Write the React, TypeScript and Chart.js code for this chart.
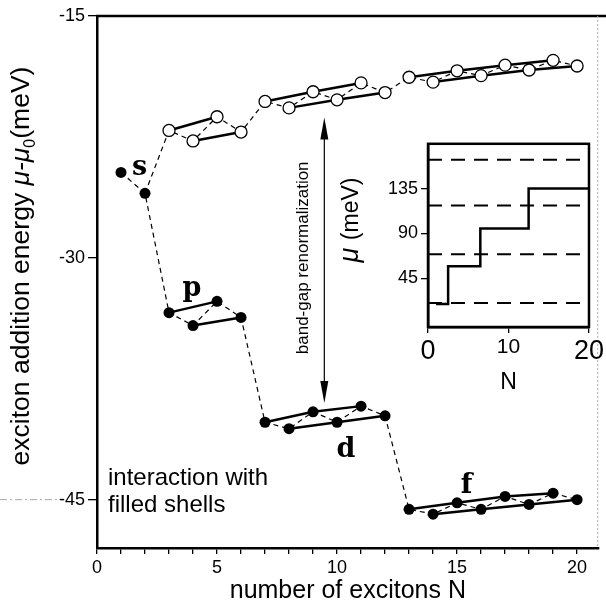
import React, { useEffect, useRef } from "react";
import { Chart, registerables } from "chart.js";
Chart.register(...registerables);

const FONT = "'Liberation Sans', Arial, Helvetica, sans-serif";
const SERIF = "'DejaVu Serif', 'Liberation Serif', serif";

// ---- main chart data ----
const excitonN = [1, 2, 3, 4, 5, 6, 7, 8, 9, 10, 11, 12, 13, 14, 15, 16, 17, 18, 19, 20];
const filledEnergy = [-24.7, -26.0, -33.4, -34.2, -32.7, -33.7, -40.2, -40.6, -39.55, -40.2, -39.2, -39.8, -45.6, -45.9, -45.2, -45.6, -44.8, -45.3, -44.6, -45.0];
const openN = [3, 4, 5, 6, 7, 8, 9, 10, 11, 12, 13, 14, 15, 16, 17, 18, 19, 20];
const openEnergy = [-22.1, -22.75, -21.25, -22.2, -20.3, -20.7, -19.7, -20.2, -19.15, -19.75, -18.8, -19.1, -18.4, -18.7, -18.05, -18.35, -17.75, -18.1];
const shellChains = [[3, 5], [4, 6], [7, 9, 11], [8, 10, 12], [13, 15, 17, 19], [14, 16, 18, 20]];
const shellLabels = ["s", "p", "d", "f"];
const mainXTicks = [0, 1, 2, 3, 4, 5, 6, 7, 8, 9, 10, 11, 12, 13, 14, 15, 16, 17, 18, 19, 20];
const mainXLabels = [0, 5, 10, 15, 20];
const mainYTicks = [-45, -30, -15];

// ---- inset data ----
const insetStepN = [1, 2.5, 6.5, 12.5, 20];
const insetStepMu = [19, 57, 95, 135, 135];
const insetLevels = [20, 69, 118, 164];
const insetYTicks = [45, 90, 135];
const insetXTicks = [0, 10, 20];

const filledAt = (n: number) => filledEnergy[excitonN.indexOf(n)];
const openAt = (n: number) => openEnergy[openN.indexOf(n)];

const mainDecor = {
  id: "mainDecor",
  afterDraw(chart: any) {
    const { ctx, chartArea, scales } = chart;
    const x = scales.x, y = scales.y;
    ctx.save();
    // top frame line
    ctx.strokeStyle = "#000";
    ctx.lineWidth = 2.5;
    ctx.beginPath();
    ctx.moveTo(chartArea.left - 1, chartArea.top);
    ctx.lineTo(chart.width, chartArea.top);
    ctx.stroke();
    // faint right edge (scan)
    ctx.strokeStyle = "#b0b0b0";
    ctx.lineWidth = 1;
    ctx.setLineDash([2, 2]);
    ctx.beginPath();
    ctx.moveTo(chartArea.right - 1, chartArea.top);
    ctx.lineTo(chartArea.right - 1, chartArea.bottom);
    ctx.stroke();
    // faint dash-dot at -45 on the left
    const y45 = y.getPixelForValue(-45);
    ctx.strokeStyle = "#a8a8a8";
    ctx.setLineDash([7, 3, 2, 3]);
    ctx.beginPath();
    ctx.moveTo(0, y45);
    ctx.lineTo(57, y45);
    ctx.stroke();
    ctx.setLineDash([]);

    // shell labels
    const labelPos = [[1.77, -24.86], [3.95, -32.36], [10.37, -42.34], [15.4, -44.57]];
    ctx.fillStyle = "#000";
    ctx.font = `bold 27px ${SERIF}`;
    ctx.textAlign = "center";
    ctx.textBaseline = "alphabetic";
    shellLabels.forEach((t, i) => {
      ctx.fillText(t, x.getPixelForValue(labelPos[i][0]), y.getPixelForValue(labelPos[i][1]));
    });

    // double-headed arrow
    const ax = x.getPixelForValue(9.47);
    const yTop = y.getPixelForValue(-21.3);
    const yBot = y.getPixelForValue(-39.0);
    const head = 22, hw = 4;
    ctx.strokeStyle = "#000";
    ctx.lineWidth = 1.2;
    ctx.beginPath();
    ctx.moveTo(ax, yTop + head - 2);
    ctx.lineTo(ax, yBot - head + 2);
    ctx.stroke();
    ctx.beginPath();
    ctx.moveTo(ax, yTop);
    ctx.lineTo(ax - hw, yTop + head);
    ctx.lineTo(ax + hw, yTop + head);
    ctx.closePath();
    ctx.fill();
    ctx.beginPath();
    ctx.moveTo(ax, yBot);
    ctx.lineTo(ax - hw, yBot - head);
    ctx.lineTo(ax + hw, yBot - head);
    ctx.closePath();
    ctx.fill();

    // band-gap text
    ctx.save();
    ctx.translate(x.getPixelForValue(8.6), y.getPixelForValue(-30.0));
    ctx.rotate(-Math.PI / 2);
    ctx.font = `17px ${FONT}`;
    ctx.textAlign = "center";
    ctx.textBaseline = "middle";
    ctx.fillText("band-gap renormalization", 0, 0);
    ctx.restore();

    // interaction text
    ctx.font = `24px ${FONT}`;
    ctx.textAlign = "left";
    ctx.textBaseline = "alphabetic";
    ctx.fillText("interaction with", 108, 485);
    ctx.fillText("filled shells", 108, 512);

    // y-axis title with italic mu and subscript
    const parts: [string, string, number][] = [
      ["exciton addition energy ", `26.5px ${FONT}`, 0],
      ["\u03bc-\u03bc", `italic 26.5px ${FONT}`, 0],
      ["0", `16px ${FONT}`, 6],
      ["(meV)", `26.5px ${FONT}`, 0],
    ];
    let total = 0;
    const widths = parts.map((p) => {
      ctx.font = p[1];
      const w = ctx.measureText(p[0]).width;
      total += w;
      return w;
    });
    ctx.save();
    ctx.translate(29, 266);
    ctx.rotate(-Math.PI / 2);
    let cx = -total / 2;
    parts.forEach((p, i) => {
      ctx.font = p[1];
      ctx.textAlign = "left";
      ctx.fillText(p[0], cx, p[2]);
      cx += widths[i];
    });
    ctx.restore();
    ctx.restore();
  },
};

const insetDecor = {
  id: "insetDecor",
  afterDraw(chart: any) {
    const { ctx, chartArea } = chart;
    ctx.save();
    ctx.strokeStyle = "#000";
    ctx.lineWidth = 2.5;
    ctx.strokeRect(chartArea.left, chartArea.top, chartArea.right - chartArea.left, chartArea.bottom - chartArea.top);
    // y title
    ctx.translate(28, 90);
    ctx.rotate(-Math.PI / 2);
    ctx.fillStyle = "#000";
    ctx.textBaseline = "alphabetic";
    ctx.font = `italic 27px ${FONT}`;
    const muW = ctx.measureText("\u03bc ").width;
    ctx.font = `23px ${FONT}`;
    const restW = ctx.measureText("(meV)").width;
    let cx = -(muW + restW) / 2;
    ctx.font = `italic 27px ${FONT}`;
    ctx.textAlign = "left";
    ctx.fillText("\u03bc ", cx, 0);
    ctx.font = `23px ${FONT}`;
    ctx.fillText("(meV)", cx + muW, 0);
    ctx.restore();
  },
};

export default function App() {
  const mainRef = useRef<HTMLCanvasElement>(null);
  const insetRef = useRef<HTMLCanvasElement>(null);

  useEffect(() => {
    const filledPts = excitonN.map((n, i) => ({ x: n, y: filledEnergy[i] }));
    const openPts = openN.map((n, i) => ({ x: n, y: openEnergy[i] }));
    const openDashed = [{ x: 2, y: filledAt(2) }, ...openPts];
    const solidSets: any[] = [];
    shellChains.forEach((chain) => {
      solidSets.push({ data: chain.map((n) => ({ x: n, y: filledAt(n) })), borderColor: "#000", borderWidth: 2.5, pointRadius: 0, order: 2 });
      solidSets.push({ data: chain.map((n) => ({ x: n, y: openAt(n) })), borderColor: "#000", borderWidth: 2.5, pointRadius: 0, order: 2 });
    });

    const main = new Chart(mainRef.current!, {
      type: "line",
      data: {
        datasets: [
          { data: filledPts, borderColor: "#000", borderWidth: 1.2, borderDash: [5, 4], pointRadius: 0, order: 3 },
          { data: openDashed, borderColor: "#000", borderWidth: 1.2, borderDash: [5, 4], pointRadius: 0, order: 3 },
          ...solidSets,
          { data: filledPts, showLine: false, pointRadius: 5.5, pointBackgroundColor: "#000", pointBorderColor: "#000", pointBorderWidth: 0, order: 1 },
          { data: openPts, showLine: false, pointRadius: 6, pointBackgroundColor: "#fff", pointBorderColor: "#000", pointBorderWidth: 1.3, order: 1 },
        ] as any,
      },
      options: {
        animation: false,
        responsive: false,
        maintainAspectRatio: false,
        layout: { padding: { top: 16, right: 1, left: 0, bottom: 0 } },
        plugins: { legend: { display: false }, tooltip: { enabled: false } },
        elements: { line: { tension: 0 } },
        scales: {
          x: {
            type: "linear",
            min: 0,
            max: 20.9,
            afterBuildTicks: (s: any) => { s.ticks = mainXTicks.map((v) => ({ value: v })); },
            ticks: {
              autoSkip: false,
              maxRotation: 0,
              color: "#000",
              padding: 3,
              font: { family: FONT, size: 18 },
              callback: (v: any) => (mainXLabels.includes(Number(v)) ? String(v) : ""),
            },
            grid: { drawOnChartArea: false, tickLength: 6, color: "#000", lineWidth: 1.3 },
            border: { color: "#000", width: 2.5 },
            title: { display: true, text: "number of excitons N", color: "#000", font: { family: FONT, size: 25 }, padding: { top: 0, bottom: 9 } },
            afterFit: (s: any) => { s.height = 67; },
          },
          y: {
            type: "linear",
            min: -48,
            max: -15,
            afterBuildTicks: (s: any) => { s.ticks = mainYTicks.map((v) => ({ value: v })); },
            ticks: { color: "#000", padding: 3, font: { family: FONT, size: 18 } },
            grid: { drawOnChartArea: false, tickLength: 9, color: "#000", lineWidth: 1.3 },
            border: { color: "#000", width: 2.5 },
            afterFit: (s: any) => { s.width = 97; },
          },
        },
      } as any,
      plugins: [mainDecor],
    });

    const inset = new Chart(insetRef.current!, {
      type: "line",
      data: {
        datasets: [
          { data: insetStepN.map((n, i) => ({ x: n, y: insetStepMu[i] })), stepped: true, borderColor: "#000", borderWidth: 2.5, pointRadius: 0 },
          ...insetLevels.map((l) => ({ data: [{ x: 0, y: l }, { x: 20, y: l }], borderColor: "#000", borderWidth: 2, borderDash: [14, 9], pointRadius: 0 })),
        ] as any,
      },
      options: {
        animation: false,
        responsive: false,
        maintainAspectRatio: false,
        layout: { padding: { top: 12, right: 8, left: 0, bottom: 0 } },
        plugins: { legend: { display: false }, tooltip: { enabled: false } },
        scales: {
          x: {
            type: "linear",
            min: 0,
            max: 20,
            afterBuildTicks: (s: any) => { s.ticks = insetXTicks.map((v) => ({ value: v })); },
            ticks: {
              autoSkip: false,
              maxRotation: 0,
              color: "#000",
              padding: 2,
              font: (c: any) => ({ family: FONT, size: c.tick && c.tick.value === 10 ? 21 : 27 }),
            },
            grid: { drawOnChartArea: false, tickLength: 6, color: "#000", lineWidth: 1.3 },
            border: { color: "#000", width: 2.5 },
            title: { display: true, text: "N", color: "#000", font: { family: FONT, size: 23 }, padding: { top: 0, bottom: 4 } },
            afterFit: (s: any) => { s.height = 73; },
          },
          y: {
            type: "linear",
            min: -4,
            max: 180,
            afterBuildTicks: (s: any) => { s.ticks = insetYTicks.map((v) => ({ value: v })); },
            ticks: { color: "#000", padding: 3, font: { family: FONT, size: 18 } },
            grid: { drawOnChartArea: false, tickLength: 7, color: "#000", lineWidth: 1.3 },
            border: { color: "#000", width: 2.5 },
            afterFit: (s: any) => { s.width = 98; },
          },
        },
      } as any,
      plugins: [insetDecor],
    });

    return () => {
      main.destroy();
      inset.destroy();
    };
  }, []);

  return (
    <div style={{ position: "fixed", left: 0, top: 0, width: 606, height: 615, background: "#fff" }}>
      <canvas ref={mainRef} width={606} height={615} style={{ position: "absolute", left: 0, top: 0, width: 606, height: 615 }} />
      <canvas ref={insetRef} width={276} height={270} style={{ position: "absolute", left: 330, top: 130, width: 276, height: 270 }} />
    </div>
  );
}
